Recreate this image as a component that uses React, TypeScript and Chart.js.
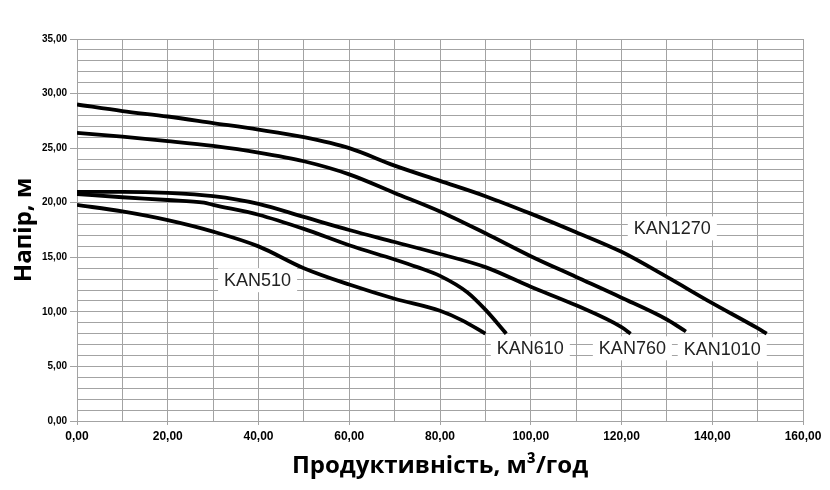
import { useEffect, useRef } from "react"
import { Chart, registerables, type ChartConfiguration, type Plugin } from "chart.js"

Chart.register(...registerables)

// Q-H curves, flow in m³/h, head in m
const flow510 = [0, 10, 20, 30, 40, 50, 60, 70, 80, 85, 90]
const head510 = [19.8, 19.2, 18.4, 17.35, 16.0, 14.0, 12.5, 11.2, 10.1, 9.2, 8.0]

const flow610 = [0, 10, 20, 28, 30, 40, 50, 60, 70, 75, 80, 86, 90, 94.6]
const head610 = [20.8, 20.5, 20.25, 20.0, 19.8, 18.9, 17.6, 16.1, 14.8, 14.1, 13.3, 11.8, 10.2, 8.0]

const flow760 = [0, 10, 20, 30, 40, 50, 60, 70, 80, 90, 100, 110, 120, 122]
const head760 = [21.0, 21.0, 20.9, 20.6, 19.9, 18.7, 17.5, 16.4, 15.3, 14.1, 12.3, 10.6, 8.6, 8.0]

const flow1010 = [0, 10, 20, 30, 40, 50, 60, 70, 80, 90, 100, 110, 120, 130, 134.2]
const head1010 = [26.4, 26.05, 25.65, 25.2, 24.6, 23.8, 22.6, 20.9, 19.2, 17.2, 15.1, 13.2, 11.3, 9.3, 8.2]

const flow1270 = [0, 10, 20, 30, 40, 50, 60, 70, 80, 90, 100, 110, 120, 130, 140, 150, 152]
const head1270 = [29.0, 28.4, 27.9, 27.3, 26.7, 26.0, 25.0, 23.4, 22.0, 20.6, 19.0, 17.3, 15.5, 13.2, 10.8, 8.5, 8.0]

const modelNames = ["KAN510", "KAN610", "KAN760", "KAN1010", "KAN1270"]
const curveFlows = [flow510, flow610, flow760, flow1010, flow1270]
const curveHeads = [head510, head610, head760, head1010, head1270]

// where each model name sits, in chart values
const labelFlow = [39.8, 99.9, 122.4, 142.2, 131.2]
const labelHead = [12.9, 6.66, 6.66, 6.57, 17.65]

const flowMin = 0
const flowMax = 160
const headMin = 0
const headMax = 35

const gridColor = "#a3a3a3"
const fmt = (v: number) => v.toFixed(2).replace(".", ",")

const curveLabels: Plugin<"scatter"> = {
  id: "curveLabels",
  beforeDatasetsDraw(chart) {
    const { ctx, scales } = chart
    ctx.save()
    ctx.font = '18px "Liberation Sans", Arial, sans-serif'
    ctx.textAlign = "center"
    ctx.textBaseline = "middle"
    modelNames.forEach((name, i) => {
      const x = scales.x.getPixelForValue(labelFlow[i])
      const y = scales.y.getPixelForValue(labelHead[i])
      const w = ctx.measureText(name).width + 12
      ctx.fillStyle = "#ffffff"
      ctx.fillRect(x - w / 2, y - 12, w, 24)
      ctx.fillStyle = "#222222"
      ctx.fillText(name, x, y + 1)
    })
    ctx.restore()
  },
}

export default function App() {
  const canvasRef = useRef<HTMLCanvasElement>(null)
  const chartRef = useRef<Chart | null>(null)

  useEffect(() => {
    if (!canvasRef.current) return
    if (chartRef.current) chartRef.current.destroy()

    const ctx = canvasRef.current.getContext("2d")
    if (!ctx) return

    const config: ChartConfiguration<"scatter"> = {
      type: "scatter",
      data: {
        datasets: modelNames.map((name, i) => ({
          label: name,
          data: curveFlows[i].map((q, j) => ({ x: q, y: curveHeads[i][j] })),
          showLine: true,
          borderColor: "#000000",
          backgroundColor: "#000000",
          borderWidth: 3.8,
          pointRadius: 0,
          cubicInterpolationMode: "monotone",
        })),
      },
      options: {
        animation: false,
        responsive: false,
        layout: { padding: { top: 39, right: 27, left: 0, bottom: 0 } },
        plugins: {
          legend: { display: false },
          tooltip: { enabled: false },
        },
        scales: {
          x: {
            type: "linear",
            min: flowMin,
            max: flowMax,
            afterFit: (scale) => {
              scale.height = 69
            },
            ticks: {
              stepSize: 10,
              autoSkip: false,
              maxRotation: 0,
              padding: 4,
              color: "#000000",
              font: { family: '"Liberation Sans", Arial, sans-serif', size: 12, weight: "bold" },
              callback: (value) => (Number(value) % 20 === 0 ? fmt(Number(value)) : ""),
            },
            grid: {
              color: gridColor,
              tickLength: 4,
              tickColor: (c) => (c.tick && c.tick.value % 20 === 0 ? gridColor : "rgba(0,0,0,0)"),
            },
            border: { color: gridColor },
            title: {
              display: true,
              text: "Продуктивність, м³/год",
              color: "#000000",
              font: { family: '"Open Sans", sans-serif', size: 24, weight: "bold" },
              padding: { top: 0, bottom: 9 },
            },
          },
          y: {
            type: "linear",
            min: headMin,
            max: headMax,
            afterFit: (scale) => {
              scale.width = 77
            },
            ticks: {
              stepSize: 1,
              autoSkip: false,
              padding: 3,
              color: "#000000",
              font: { family: '"Liberation Sans", Arial, sans-serif', size: 10, weight: "bold" },
              callback: (value) => (Number(value) % 5 === 0 ? fmt(Number(value)) : ""),
            },
            grid: {
              color: gridColor,
              tickLength: 7,
              tickColor: (c) => (c.tick && c.tick.value % 5 === 0 ? gridColor : "rgba(0,0,0,0)"),
            },
            border: { color: gridColor },
            title: {
              display: true,
              text: "Напір, м",
              color: "#000000",
              font: { family: '"Open Sans", sans-serif', size: 24, weight: "bold" },
              padding: { top: 10, bottom: 0 },
            },
          },
        },
      },
      plugins: [curveLabels],
    }

    chartRef.current = new Chart(ctx, config)

    return () => {
      if (chartRef.current) {
        chartRef.current.destroy()
        chartRef.current = null
      }
    }
  }, [])

  return (
    <div style={{ position: "absolute", left: 0, top: 0, width: 830, height: 490, background: "#fff" }}>
      <canvas ref={canvasRef} width={830} height={490} />
    </div>
  )
}
